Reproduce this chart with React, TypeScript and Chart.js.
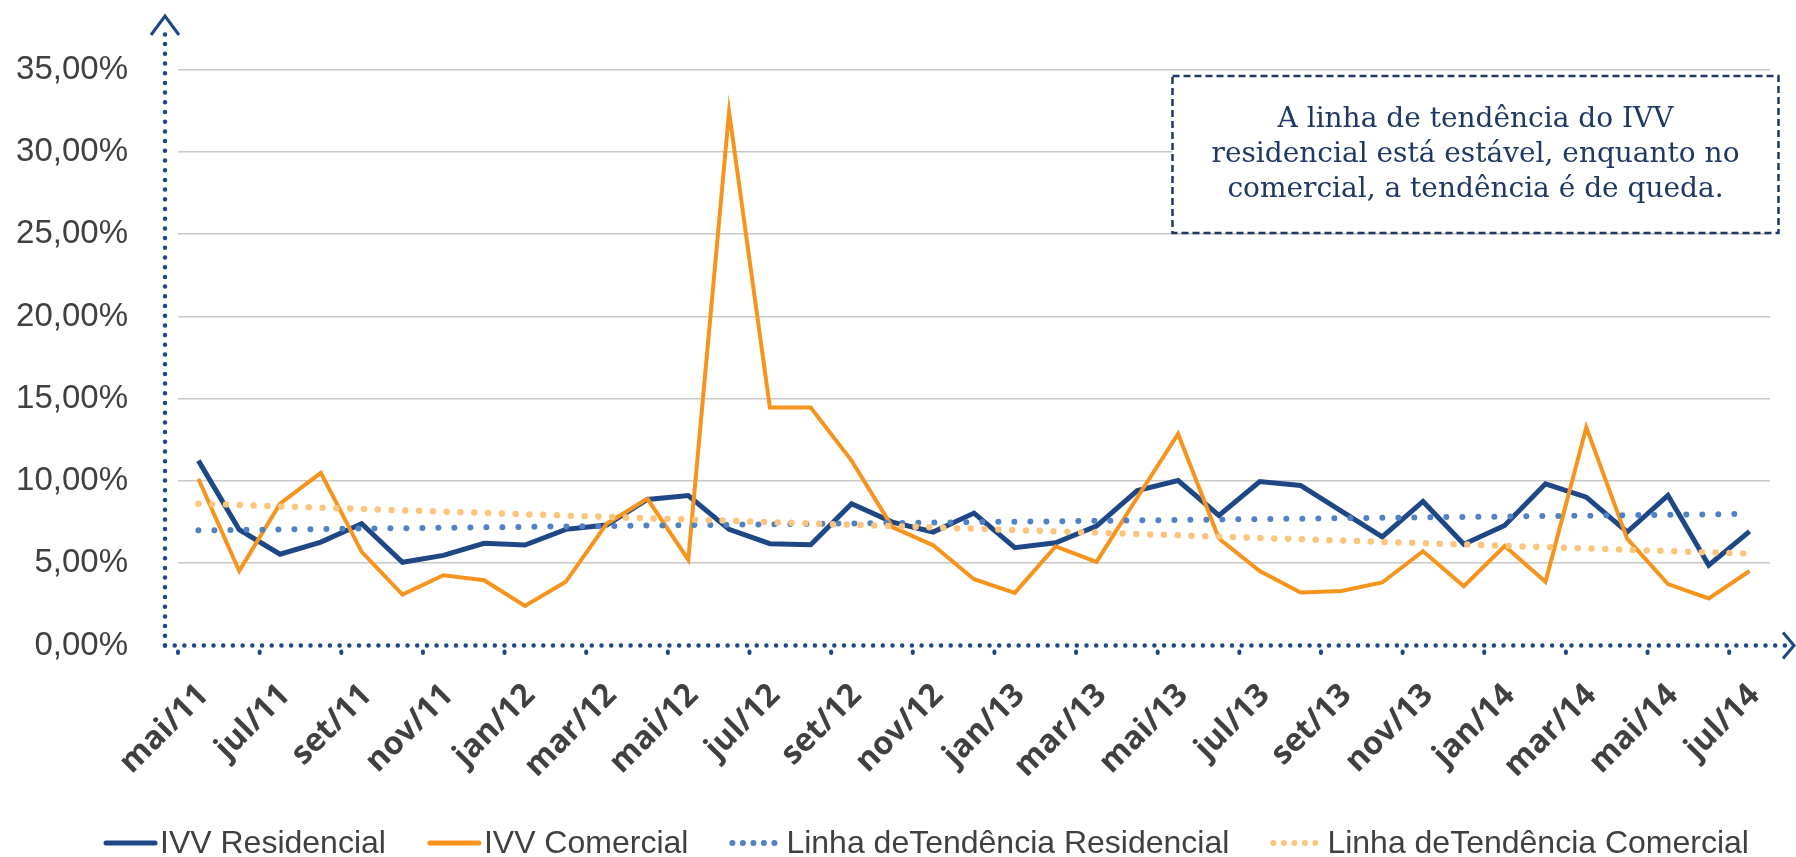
import React, { useEffect, useRef } from 'react';
import { Chart, registerables } from 'chart.js';

Chart.register(...registerables);

const months = [
  'mai/11', 'jun/11', 'jul/11', 'ago/11', 'set/11', 'out/11', 'nov/11', 'dez/11',
  'jan/12', 'fev/12', 'mar/12', 'abr/12', 'mai/12', 'jun/12', 'jul/12', 'ago/12',
  'set/12', 'out/12', 'nov/12', 'dez/12', 'jan/13', 'fev/13', 'mar/13', 'abr/13',
  'mai/13', 'jun/13', 'jul/13', 'ago/13', 'set/13', 'out/13', 'nov/13', 'dez/13',
  'jan/14', 'fev/14', 'mar/14', 'abr/14', 'mai/14', 'jun/14', 'jul/14',
];

const ivvResidencial = [
  11.24, 7.04, 5.55, 6.29, 7.4, 5.06, 5.48, 6.21, 6.11, 7.06, 7.32, 8.88, 9.12,
  7.06, 6.19, 6.13, 8.62, 7.5, 6.9, 8.05, 5.95, 6.25, 7.26, 9.42, 10.03, 7.91,
  9.97, 9.73, 8.17, 6.6, 8.76, 6.15, 7.3, 9.83, 9.02, 6.9, 9.12, 4.88, 6.94,
];

const ivvComercial = [
  10.13, 4.53, 8.62, 10.5, 5.69, 3.1, 4.27, 3.97, 2.41, 3.87, 7.4, 8.92, 5.22,
  32.45, 14.47, 14.47, 11.24, 7.2, 6.09, 4.03, 3.2, 6.03, 5.08, 9.0, 12.86, 6.5,
  4.53, 3.22, 3.32, 3.83, 5.73, 3.6, 6.05, 3.87, 13.26, 6.5, 3.73, 2.86, 4.53,
];

const tendenciaResidencial = [
  7.0, 7.03, 7.05, 7.08, 7.11, 7.13, 7.16, 7.18, 7.21, 7.24, 7.26, 7.29, 7.32,
  7.34, 7.37, 7.39, 7.42, 7.45, 7.47, 7.5, 7.53, 7.55, 7.58, 7.61, 7.63, 7.66,
  7.68, 7.71, 7.74, 7.76, 7.79, 7.82, 7.84, 7.87, 7.89, 7.92, 7.95, 7.97, 8.0,
];

const tendenciaComercial = [
  8.62, 8.54, 8.46, 8.38, 8.3, 8.22, 8.14, 8.06, 7.98, 7.9, 7.82, 7.74, 7.66,
  7.58, 7.5, 7.42, 7.34, 7.26, 7.18, 7.1, 7.02, 6.94, 6.86, 6.78, 6.7, 6.62,
  6.54, 6.46, 6.38, 6.3, 6.22, 6.14, 6.06, 5.98, 5.9, 5.82, 5.74, 5.66, 5.58,
];

const seriesNames = [
  'IVV Residencial',
  'IVV Comercial',
  'Linha deTendência Residencial',
  'Linha deTendência Comercial',
];

const noteLines = [
  'A linha de tendência do IVV',
  'residencial está estável, enquanto no',
  'comercial, a tendência é de queda.',
];

const Y_MIN = 0;
const Y_MAX = 35;
const Y_STEP = 5;

const NAVY = '#1e4785';
const ORANGE = '#f7941d';
const TREND_BLUE = '#4f81c3';
const TREND_ORANGE = '#fcc57e';
const TEXT_GRAY = '#404040';
const NOTE_NAVY = '#1f3864';

const decorPlugin = {
  id: 'decor',
  afterDraw(chart: any) {
    const ctx = chart.ctx as CanvasRenderingContext2D;
    const xs = chart.scales.x;
    const ys = chart.scales.y;
    const y0 = ys.getPixelForValue(0);
    const axisX = chart.chartArea.left - 13;

    ctx.save();
    // dotted axes
    ctx.strokeStyle = NAVY;
    ctx.lineCap = 'round';
    ctx.lineWidth = 4.5;
    ctx.setLineDash([0, 9.7]);
    ctx.beginPath();
    ctx.moveTo(axisX, y0);
    ctx.lineTo(axisX, 27);
    ctx.stroke();
    ctx.beginPath();
    ctx.moveTo(axisX, y0);
    ctx.lineTo(1789, y0);
    ctx.stroke();

    // tick dots (between categories, every second)
    const half = (xs.getPixelForValue(1) - xs.getPixelForValue(0)) / 2;
    ctx.lineWidth = 4;
    ctx.setLineDash([]);
    for (let i = 0; i < months.length; i += 2) {
      const tx = xs.getPixelForValue(i) - half;
      ctx.beginPath();
      ctx.moveTo(tx, y0 + 6);
      ctx.lineTo(tx, y0 + 7.5);
      ctx.stroke();
    }

    // arrows
    ctx.lineWidth = 3;
    ctx.lineCap = 'butt';
    ctx.lineJoin = 'miter';
    ctx.beginPath();
    ctx.moveTo(axisX - 14, 35);
    ctx.lineTo(axisX, 16);
    ctx.lineTo(axisX + 14, 35);
    ctx.stroke();
    ctx.beginPath();
    ctx.moveTo(1783, y0 - 13);
    ctx.lineTo(1794, y0);
    ctx.lineTo(1783, y0 + 13);
    ctx.stroke();

    // annotation box
    const bx = 1172.5, by = 76, bw = 606, bh = 157;
    ctx.fillStyle = '#ffffff';
    ctx.fillRect(bx, by, bw, bh);
    ctx.strokeStyle = NOTE_NAVY;
    ctx.lineWidth = 2.5;
    ctx.setLineDash([7, 4]);
    ctx.strokeRect(bx, by, bw, bh);
    ctx.setLineDash([]);
    ctx.fillStyle = NOTE_NAVY;
    ctx.font = "28px 'DejaVu Serif', serif";
    ctx.textAlign = 'center';
    ctx.textBaseline = 'alphabetic';
    noteLines.forEach((line, k) => {
      ctx.fillText(line, bx + bw / 2, 127 + k * 35);
    });

    // legend
    ctx.font = "32px 'Liberation Sans', Arial, sans-serif";
    ctx.textAlign = 'left';
    let lx = 104;
    const ly = 843;
    chart.data.datasets.forEach((ds: any) => {
      ctx.strokeStyle = ds.borderColor;
      ctx.lineWidth = ds.borderDash && ds.borderDash.length ? 6 : 5;
      ctx.lineCap = 'round';
      ctx.setLineDash(ds.borderDash && ds.borderDash.length ? [0, 10.5] : []);
      ctx.beginPath();
      ctx.moveTo(lx + 2, ly);
      ctx.lineTo(lx + 51, ly);
      ctx.stroke();
      ctx.setLineDash([]);
      ctx.fillStyle = TEXT_GRAY;
      ctx.fillText(ds.label, lx + 56, 853);
      lx += 56 + ctx.measureText(ds.label).width + 42;
    });
    ctx.restore();
  },
};

export default function App() {
  const canvasRef = useRef<HTMLCanvasElement | null>(null);

  useEffect(() => {
    if (!canvasRef.current) return;
    const chart = new Chart(canvasRef.current, {
      type: 'line',
      data: {
        labels: months,
        datasets: [
          {
            label: seriesNames[0],
            data: ivvResidencial,
            borderColor: NAVY,
            borderWidth: 5,
            pointRadius: 0,
            tension: 0,
            order: 4,
          },
          {
            label: seriesNames[1],
            data: ivvComercial,
            borderColor: ORANGE,
            borderWidth: 4,
            pointRadius: 0,
            tension: 0,
            order: 3,
          },
          {
            label: seriesNames[2],
            data: tendenciaResidencial,
            borderColor: TREND_BLUE,
            borderWidth: 6,
            borderDash: [0, 16],
            borderCapStyle: 'round',
            pointRadius: 0,
            tension: 0,
            order: 2,
          },
          {
            label: seriesNames[3],
            data: tendenciaComercial,
            borderColor: TREND_ORANGE,
            borderWidth: 6.5,
            borderDash: [0, 13.8],
            borderCapStyle: 'round',
            pointRadius: 0,
            tension: 0,
            order: 1,
          },
        ] as any,
      },
      options: {
        responsive: false,
        animation: false,
        devicePixelRatio: 1,
        layout: { padding: { top: 65.2, right: 26, bottom: 0, left: 0 } },
        plugins: {
          legend: { display: false },
          tooltip: { enabled: false },
        },
        scales: {
          x: {
            type: 'category',
            offset: true,
            grid: { display: false },
            border: { display: false },
            afterFit: (scale: any) => {
              scale.height = 211.5;
              scale.paddingLeft = 0;
              scale.paddingRight = 0;
            },
            ticks: {
              autoSkip: false,
              minRotation: 45,
              maxRotation: 45,
              padding: 23,
              labelOffset: 5,
              color: TEXT_GRAY,
              font: { family: "'Open Sans', sans-serif", size: 32, weight: 'bold' },
              callback: (_v: any, i: number) => (i % 2 === 0 ? months[i] : null),
            },
          },
          y: {
            min: Y_MIN,
            max: Y_MAX,
            afterFit: (scale: any) => {
              scale.width = 178;
            },
            border: { display: false },
            grid: {
              drawTicks: false,
              lineWidth: 1.6,
              color: (c: any) => (c.tick && c.tick.value === 0 ? 'rgba(0,0,0,0)' : '#c9c9c9'),
            },
            ticks: {
              stepSize: Y_STEP,
              padding: 50,
              color: TEXT_GRAY,
              font: { family: "'Liberation Sans', Arial, sans-serif", size: 33 },
              callback: (v: any) => Number(v).toFixed(2).replace('.', ',') + '%',
            },
          },
        },
      } as any,
      plugins: [decorPlugin],
    });
    return () => chart.destroy();
  }, []);

  return (
    <div style={{ position: 'absolute', left: 0, top: 0, width: 1796, height: 857, background: '#fff' }}>
      <canvas ref={canvasRef} width={1796} height={857} style={{ width: 1796, height: 857, display: 'block' }} />
    </div>
  );
}
